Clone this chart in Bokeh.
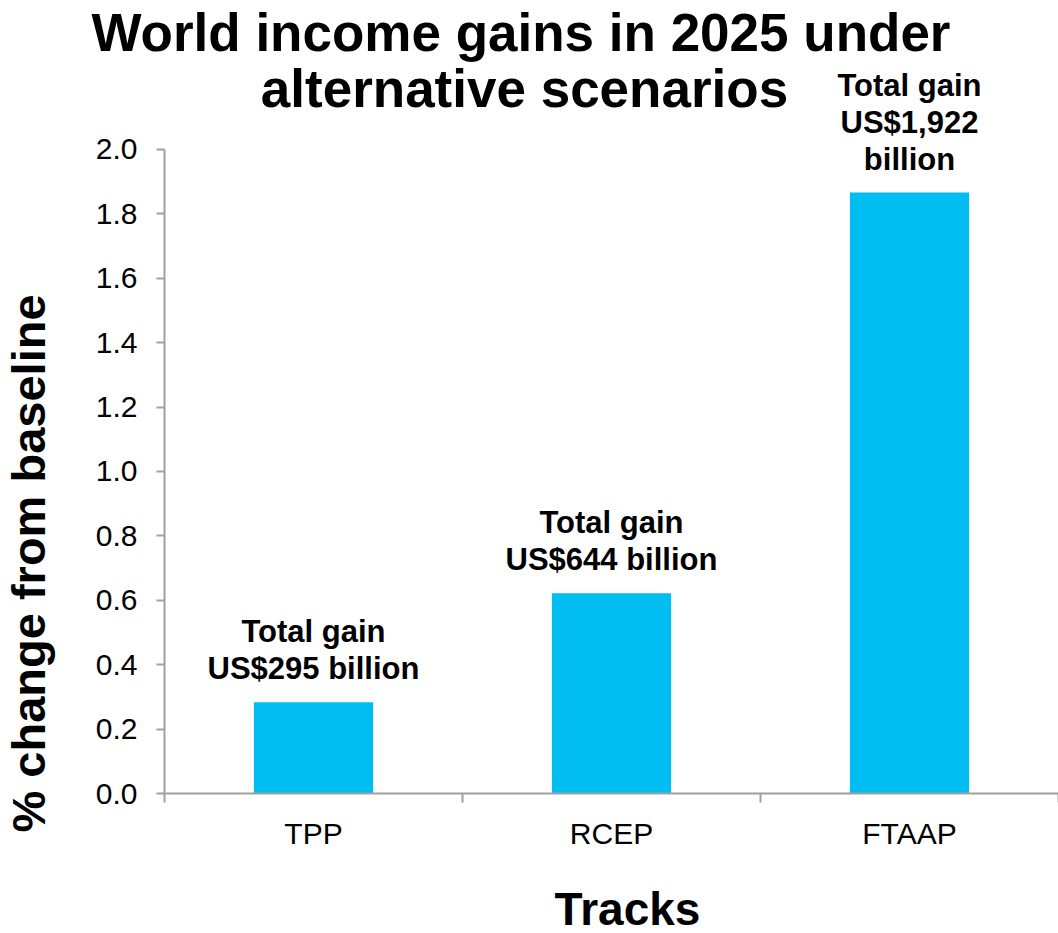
from bokeh.plotting import figure
from bokeh.layouts import row, column
from bokeh.models import (ColumnDataSource, Range1d, FixedTicker, LabelSet, Label,
                          PrintfTickFormatter, Title)
from bokeh.core.properties import value
from bokeh.embed import file_html
from bokeh.resources import INLINE

# ---- data ----
tracks = ["TPP", "RCEP", "FTAAP"]
pct_change = [0.283, 0.622, 1.866]
gain_labels = [
    "Total gain\nUS$295 billion",
    "Total gain\nUS$644 billion",
    "Total gain\nUS$1,922\nbillion",
]
y_ticks = [0.0, 0.2, 0.4, 0.6, 0.8, 1.0, 1.2, 1.4, 1.6, 1.8, 2.0]
title_lines = ["World income gains in 2025 under", "alternative scenarios"]
x_title = "Tracks"
y_title = "% change from baseline"

FONT = "Liberation Sans"
AXIS_GRAY = "#A0A0A0"
BAR_COLOR = "#00BEF2"

# ---- layout sizes (pixels) ----
W, H = 1058, 933
LEFT_W = 80          # strip holding the vertical axis title
BOTTOM_H = 63        # strip holding the horizontal axis title
MAIN_W, MAIN_H = W - LEFT_W, H - BOTTOM_H

n = len(tracks)
x_pos = [i + 0.5 for i in range(n)]
boundaries = [float(i) for i in range(n + 1)]
y_axis_max = y_ticks[-1]
y_view_max = 2.273  # extra room above the axis for annotations / title line

src = ColumnDataSource(dict(x=x_pos, top=pct_change))

# split multi-line annotations into single lines, stacked upward from the bar
lx, ly, lt, loff = [], [], [], []
for x, top, lab in zip(x_pos, pct_change, gain_labels):
    lines = lab.split("\n")
    for k, line in enumerate(reversed(lines)):
        lx.append(x); ly.append(top); lt.append(line); loff.append(23 + 37 * k)
lab_src = ColumnDataSource(dict(x=lx, y=ly, text=lt, yoff=loff))


def blank_fig(w, h):
    f = figure(width=w, height=h, output_backend="svg", toolbar_location=None,
               x_range=Range1d(0, w), y_range=Range1d(0, h),
               x_axis_location=None, y_axis_location=None,
               min_border=0, min_border_left=0, min_border_right=0,
               min_border_top=0, min_border_bottom=0)
    f.outline_line_color = None
    f.xgrid.grid_line_color = None
    f.ygrid.grid_line_color = None
    f.background_fill_color = "white"
    f.border_fill_color = "white"
    return f


# ---- main chart ----
p = figure(width=MAIN_W, height=MAIN_H, output_backend="svg", toolbar_location=None,
           x_range=Range1d(0, n), y_range=Range1d(0, y_view_max),
           min_border_left=164 - LEFT_W, min_border_right=0, min_border_top=0,
           min_border_bottom=77)
p.outline_line_color = None
p.xgrid.grid_line_color = None
p.ygrid.grid_line_color = None
p.background_fill_color = "white"
p.border_fill_color = "white"

p.vbar(x="x", top="top", width=0.4, source=src, fill_color=BAR_COLOR, line_color=None)

# x axis
xa = p.xaxis[0]
xa.ticker = FixedTicker(ticks=x_pos, minor_ticks=boundaries)
xa.major_label_overrides = {x: t for x, t in zip(x_pos, tracks)}
xa.major_tick_out = 0
xa.major_tick_in = 0
xa.minor_tick_out = 9
xa.minor_tick_in = 0
xa.minor_tick_line_color = AXIS_GRAY
xa.minor_tick_line_width = 2
xa.axis_line_color = AXIS_GRAY
xa.axis_line_width = 2
xa.major_label_text_font = FONT
xa.major_label_text_font_size = "30px"
xa.major_label_text_color = "black"
xa.major_label_standoff = 14

# y axis
ya = p.yaxis[0]
ya.bounds = (0, y_axis_max)
ya.ticker = FixedTicker(ticks=y_ticks, minor_ticks=[])
ya.formatter = PrintfTickFormatter(format="%.1f")
ya.major_tick_out = 8
ya.major_tick_in = 0
ya.major_tick_line_color = AXIS_GRAY
ya.major_tick_line_width = 2
ya.axis_line_color = AXIS_GRAY
ya.axis_line_width = 2
ya.major_label_text_font = FONT
ya.major_label_text_font_size = "30px"
ya.major_label_text_color = "black"
ya.major_label_standoff = 19

# first title line in the panel above the plot
p.add_layout(Title(text=title_lines[0], align="left", offset=-73, standoff=0,
                   text_font=FONT, text_font_size="53px", text_font_style="bold",
                   text_color="black"), "above")

# second title line inside the frame
p.add_layout(Label(x=1.208, y=2.19, text=title_lines[1], text_align="center",
                   text_baseline="alphabetic", text_font=FONT,
                   text_font_size="53px", text_font_style="bold", text_color="black"))

# bar annotations
labels = LabelSet(x="x", y="y", text="text", y_offset="yoff", source=lab_src,
                  text_align="center", text_baseline="alphabetic",
                  text_font=value(FONT), text_font_size="31px",
                  text_font_style="bold", text_color="black")
p.add_layout(labels)

# ---- vertical axis title strip: a side-panel title (not clipped) ----
left = blank_fig(LEFT_W, MAIN_H)
left.add_layout(Title(text=y_title, align="left", offset=-39, standoff=2,
                      vertical_align="top", text_font=FONT, text_font_size="47px",
                      text_font_style="bold", text_color="black"), "left")

# ---- horizontal axis title strip ----
bottom = blank_fig(W, BOTTOM_H)
bottom.add_layout(Label(x=627, y=BOTTOM_H - (908 - MAIN_H), text=x_title,
                        text_align="center", text_baseline="middle", text_font=FONT,
                        text_font_size="46px", text_font_style="bold", text_color="black"))

layout = column(row(left, p, spacing=0), bottom, spacing=0)
open("out.html", "w").write(file_html(layout, INLINE))
